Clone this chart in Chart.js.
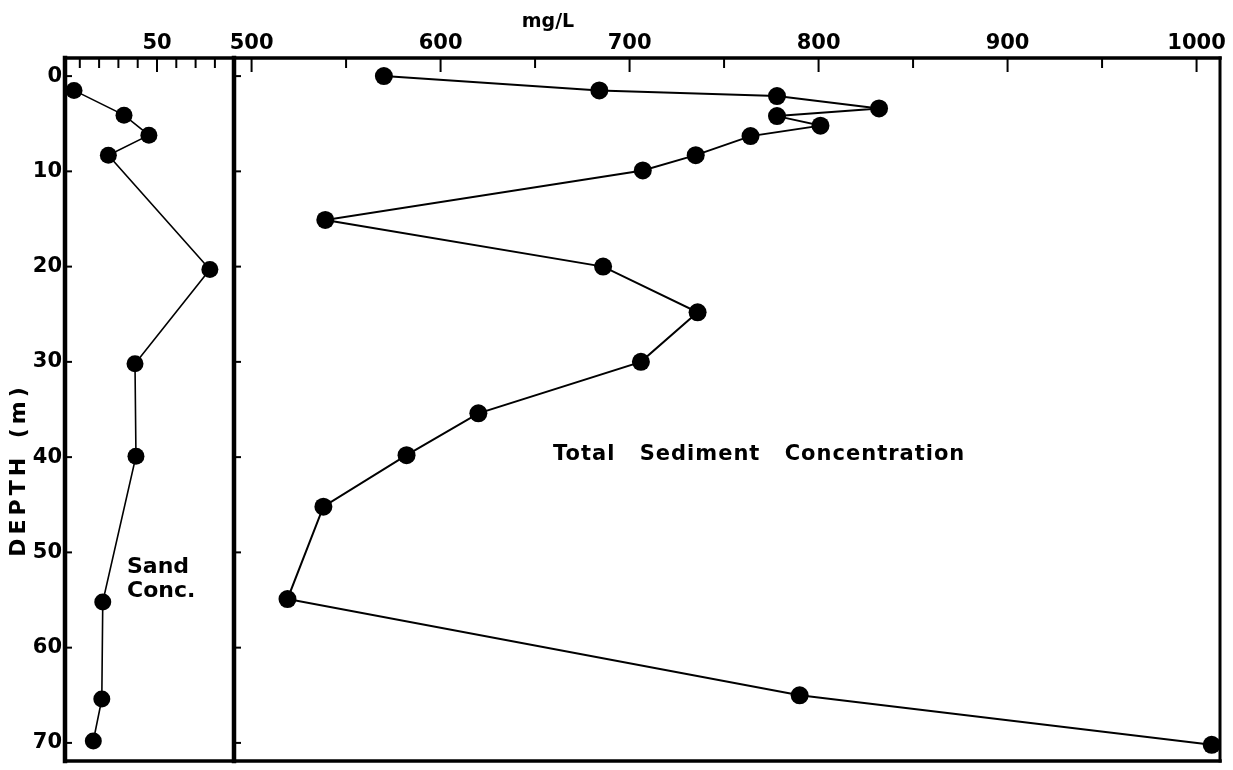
<!DOCTYPE html>
<html>
<head>
<meta charset="utf-8">
<script src="https://cdn.jsdelivr.net/npm/chart.js@4.4.0/dist/chart.umd.min.js"></script>
<style>
html,body{margin:0;padding:0;background:#fff;}
#wrap{width:1233px;height:770px;position:relative;background:#fff;}
</style>
</head>
<body>
<div id="wrap"><canvas id="c" width="1233" height="770"></canvas></div>
<script>
// ---- data ----
const depthSand  = [1.5, 4.1, 6.2, 8.3, 20.3, 30.2, 39.9, 55.2, 65.4, 69.8];
const sandConc   = [7.0, 32.9, 45.8, 24.8, 77.4, 38.6, 39.1, 21.9, 21.4, 17.0];
const depthTotal = [0, 1.5, 2.1, 3.4, 4.2, 5.2, 6.3, 8.3, 9.9, 15.1, 20.0, 24.8, 30.0, 35.4, 39.8, 45.2, 54.9, 65.0, 70.2];
const totalConc  = [570, 684, 778, 832, 778, 801, 764, 735, 707, 539, 686, 736, 706, 620, 582, 538, 519, 790, 1008];
const depthTickLabels = [0, 10, 20, 30, 40, 50, 60, 70];
const sandTickLabels  = [50];
const totalTickLabels = [500, 600, 700, 800, 900, 1000];

const FONT = 'DejaVu Sans';
const tickFont = {family: FONT, size: 21, weight: 'bold'};

const sandPts  = depthSand.map((d, i) => ({x: sandConc[i], y: d}));
const totalPts = depthTotal.map((d, i) => ({x: totalConc[i], y: d}));

function noPadX(s){ s.paddingLeft = 0; s.paddingRight = 0; s.height = 58; }

const framePlugin = {
  id: 'frame',
  beforeDatasetsDraw(chart) {
    const {ctx, chartArea} = chart;
    const xs = chart.scales.xs, xt = chart.scales.xt, y = chart.scales.y;
    const top = chartArea.top, bot = chartArea.bottom, L = chartArea.left, R = chartArea.right;
    const div = xs.right;
    ctx.save();
    ctx.strokeStyle = '#000';
    function ln(x1, y1, x2, y2, w) { ctx.lineWidth = w; ctx.beginPath(); ctx.moveTo(x1, y1); ctx.lineTo(x2, y2); ctx.stroke(); }
    // inward tick marks on top axes
    ctx.lineCap = 'butt';
    xs.ticks.forEach(t => {
      const px = xs.getPixelForValue(t.value);
      ln(px, top, px, top + (sandTickLabels.includes(t.value) ? 14 : 10), 2);
    });
    xt.ticks.forEach(t => {
      const px = xt.getPixelForValue(t.value);
      ln(px, top, px, top + (totalTickLabels.includes(t.value) ? 14 : 10), 2);
    });
    // inward depth ticks on left axis and divider
    y.ticks.forEach(t => {
      const py = y.getPixelForValue(t.value);
      ln(L, py, L + 7, py, 2);
      ln(div, py, div + 7, py, 2);
    });
    ctx.lineCap = 'square';
    ln(L, top, R, top, 3.5);
    ln(L, bot, R, bot, 3.5);
    ln(L, top, L, bot, 4.5);
    ln(div, top, div, bot, 4.5);
    ln(R, top, R, bot, 3);
    ctx.restore();
  }
};

const textPlugin = {
  id: 'texts',
  afterDraw(chart) {
    const {ctx} = chart;
    ctx.save();
    ctx.fillStyle = '#000';
    // unit label
    ctx.font = 'bold 19px "' + FONT + '"';
    ctx.textAlign = 'center';
    ctx.textBaseline = 'alphabetic';
    ctx.fillText('mg/L', 548, 27);
    // Sand Conc.
    ctx.font = 'bold 22px "' + FONT + '"';
    ctx.textAlign = 'left';
    ctx.fillText('Sand', 127, 573);
    ctx.fillText('Conc.', 127, 597);
    // Total Sediment Concentration
    ctx.font = 'bold 21px "' + FONT + '"';
    try { ctx.letterSpacing = '1px'; ctx.wordSpacing = '16px'; } catch (e) {}
    ctx.fillText('Total Sediment Concentration', 553, 460);
    // depth axis title
    ctx.translate(19, 470);
    ctx.rotate(-Math.PI / 2);
    ctx.font = 'bold 22px "' + FONT + '"';
    try { ctx.letterSpacing = '4px'; ctx.wordSpacing = '4px'; } catch (e) {}
    ctx.textAlign = 'center';
    ctx.textBaseline = 'middle';
    ctx.fillText('DEPTH (m)', 0, 0);
    ctx.restore();
  }
};

new Chart(document.getElementById('c'), {
  type: 'scatter',
  data: {
    datasets: [
      {
        label: 'Sand Conc.',
        data: sandPts,
        xAxisID: 'xs', yAxisID: 'y',
        showLine: true,
        borderColor: '#000', borderWidth: 1.6,
        backgroundColor: '#000',
        pointRadius: 8.5, pointBackgroundColor: '#000', pointBorderWidth: 0
      },
      {
        label: 'Total Sediment Concentration',
        data: totalPts,
        xAxisID: 'xt', yAxisID: 'y',
        showLine: true,
        borderColor: '#000', borderWidth: 2,
        backgroundColor: '#000',
        pointRadius: 9, pointBackgroundColor: '#000', pointBorderWidth: 0
      }
    ]
  },
  options: {
    responsive: false,
    maintainAspectRatio: false,
    animation: false,
    devicePixelRatio: 1,
    layout: {padding: {left: 0, right: 13, top: 0, bottom: 5}},
    plugins: {legend: {display: false}, tooltip: {enabled: false}},
    scales: {
      xt: {
        type: 'linear', position: 'top', stack: 'top', stackWeight: 986,
        min: 490.7, max: 1012.4,
        grid: {display: false, drawTicks: false}, border: {display: false},
        ticks: {stepSize: 50, includeBounds: false, autoSkip: false, maxRotation: 0,
                padding: 2, color: '#000', font: tickFont,
                callback: v => totalTickLabels.includes(v) ? String(v) : ''},
        afterFit: noPadX
      },
      xs: {
        type: 'linear', position: 'top', stack: 'top', stackWeight: 169,
        min: 2.33, max: 89.9,
        grid: {display: false, drawTicks: false}, border: {display: false},
        ticks: {stepSize: 10, includeBounds: false, autoSkip: false, maxRotation: 0,
                padding: 2, color: '#000', font: tickFont,
                callback: v => sandTickLabels.includes(v) ? String(v) : ''},
        afterFit: noPadX
      },
      y: {
        type: 'linear', position: 'left', reverse: true,
        min: -1.9, max: 71.9,
        grid: {display: false, drawTicks: false}, border: {display: false},
        ticks: {stepSize: 10, includeBounds: false, autoSkip: false,
                padding: 3, color: '#000', font: tickFont,
                callback: v => depthTickLabels.includes(v) ? String(v) : ''},
        afterFit: s => { s.width = 65; s.paddingTop = 0; s.paddingBottom = 0; }
      }
    }
  },
  plugins: [framePlugin, textPlugin]
});
</script>
</body>
</html>
